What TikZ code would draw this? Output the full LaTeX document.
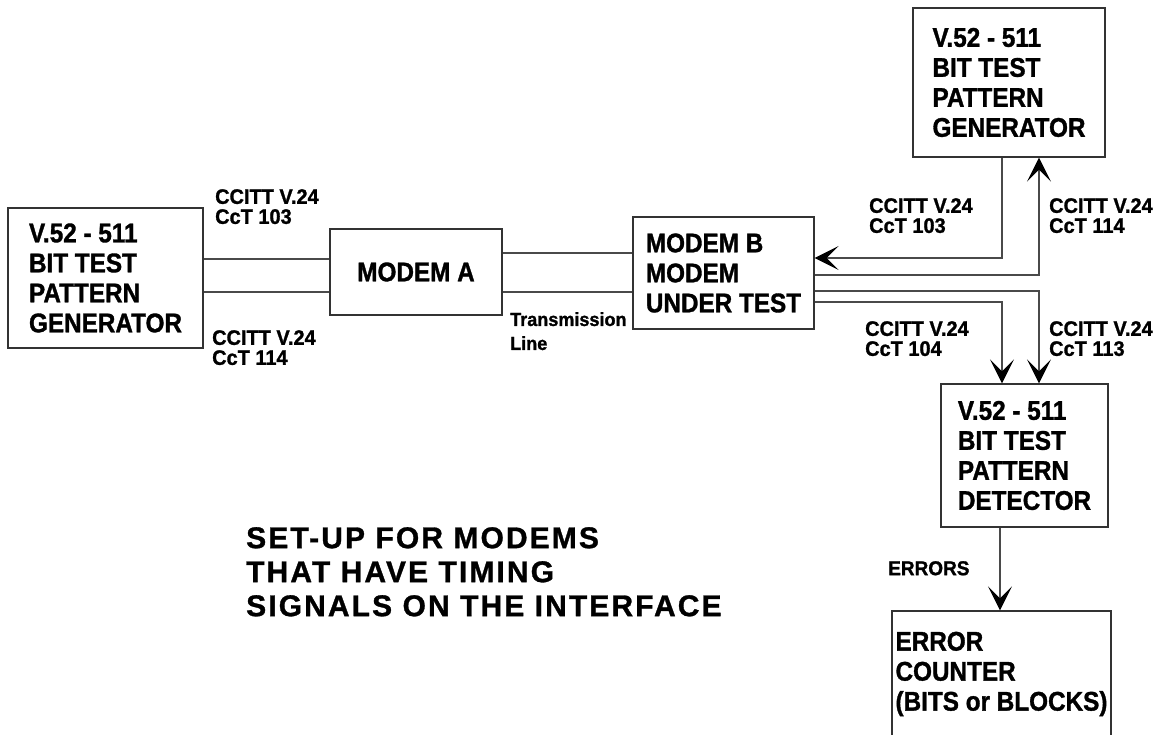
\documentclass[tikz,border=0pt]{standalone}
\usepackage{fontspec}
\setmainfont{Liberation Sans}[BoldFeatures={FakeBold=1}]
\newfontfamily\boxfont[FakeStretch=0.9, BoldFeatures={FakeBold=1.2}]{Liberation Sans}
\newfontfamily\labfont[FakeStretch=0.95, BoldFeatures={FakeBold=1.2}]{Liberation Sans}
\newfontfamily\titlefont[LetterSpace=7, BoldFeatures={FakeBold=1}]{Liberation Sans}
\usepackage{tikz}
\usetikzlibrary{positioning, arrows.meta, calc}
\definecolor{wire}{HTML}{4A4A4A}
\definecolor{edge}{HTML}{333333}

\begin{document}
\begin{tikzpicture}[
  x=1pt, y=-1pt,
  box/.style={draw=edge, line width=1.3pt, inner sep=0pt, align=left,
              font=\boxfont\bfseries\fontsize{27}{30}\selectfont},
  lab/.style={anchor=north west, inner sep=0pt, align=left,
              font=\labfont\bfseries\fontsize{21}{20}\selectfont},
  wireline/.style={line width=1.2pt, color=wire},
  arr/.style={wireline, -{Stealth[length=24pt, width=24pt, inset=12pt, color=black]}}
]
\useasboundingbox (0,0) rectangle (1165,735);
% Generator on the left
\node[box, minimum width=195, minimum height=140] (genL) at (105.5,278)
  {V.52 - 511\\BIT TEST\\PATTERN\\GENERATOR};
% Modems
\node[box, minimum width=172, minimum height=86] (modemA) at (416,272)
  {MODEM A};
\node[box, minimum width=181, minimum height=112] (modemB) at (723.5,273)
  {MODEM B\\MODEM\\UNDER TEST};
% Generator on the right
\node[box, minimum width=192, minimum height=149] (genR) at (1009,82.5)
  {V.52 - 511\\BIT TEST\\PATTERN\\GENERATOR};
% Detector and counter
\node[box, minimum width=167, minimum height=143] (det) at (1024.5,455.5)
  {V.52 - 511\\BIT TEST\\PATTERN\\DETECTOR};
\node[box, minimum width=219, minimum height=126] (cnt) at (1001.5,674)
  {ERROR\\COUNTER\\(BITS or BLOCKS)};
% Interface lines genL - modem A
\draw[wireline] ([yshift=19pt]genL.east) -- ([yshift=19pt]genL.east -| modemA.west);
\draw[wireline] ([yshift=-14pt]genL.east) -- ([yshift=-14pt]genL.east -| modemA.west);
% Transmission line
\draw[wireline] ([yshift=19pt]modemA.east) -- ([yshift=19pt]modemA.east -| modemB.west);
\draw[wireline] ([yshift=-20pt]modemA.east) -- ([yshift=-20pt]modemA.east -| modemB.west);
% Circuits between modem B and the right side
\coordinate (c103) at ([xshift=-7pt]genR.south);
\coordinate (c114) at ([xshift=30pt]genR.south);
\coordinate (c104) at ([xshift=-22.5pt]det.north);
\coordinate (c113) at ([xshift=14.5pt]det.north);
\draw[arr] (c103) |- ([yshift=15pt]modemB.east);
\draw[arr] ([yshift=-2pt]modemB.east) -| (c114);
\draw[arr] ([yshift=-18pt]modemB.east) -| (c113);
\draw[arr] ([yshift=-29pt]modemB.east) -| (c104);
% Errors
\draw[arr] ([xshift=-24.5pt]det.south) -- ([xshift=-24.5pt]det.south |- cnt.north);
% Labels
\node[lab] (l103L) at (215,189) {CCITT V.24\\CcT 103};
\node[lab] (l114L) at (212,330) {CCITT V.24\\CcT 114};
\node[lab, font=\labfont\bfseries\fontsize{19}{24}\selectfont] (ltrans) at (510,312)
  {Transmission\\Line};
\node[lab] (l103R) at (869,198) {CCITT V.24\\CcT 103};
\node[lab] (l114R) at (1049,198) {CCITT V.24\\CcT 114};
\node[lab] (l104R) at (865,321) {CCITT V.24\\CcT 104};
\node[lab] (l113R) at (1049,321) {CCITT V.24\\CcT 113};
\node[lab, font=\labfont\bfseries\fontsize{20}{20}\selectfont] (lerr) at (888,561)
  {ERRORS};
% Caption
\node[anchor=north west, inner sep=0pt, align=left,
      font=\titlefont\bfseries\fontsize{30}{34}\selectfont] (title) at (246,527)
  {SET-UP FOR MODEMS\\THAT HAVE TIMING\\SIGNALS ON THE INTERFACE};
\end{tikzpicture}
\end{document}
